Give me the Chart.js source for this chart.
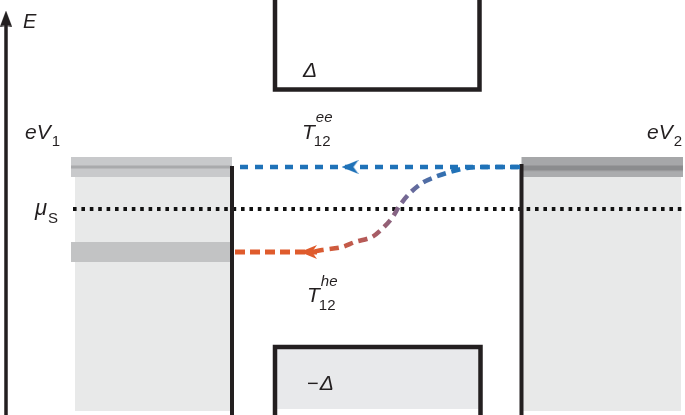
<!DOCTYPE html>
<html>
<head>
<meta charset="utf-8">
<script src="https://cdn.jsdelivr.net/npm/chart.js@4/dist/chart.umd.min.js"></script>
<style>
  html, body { margin: 0; padding: 0; background: #fff; }
  canvas { display: block; }
</style>
</head>
<body>
<canvas id="c" width="685" height="415"></canvas>
<script>
// energies (arbitrary units, muS = 0)
const muS = 0
const eV1 = 0.42
const eV2 = 0.42
const holeLevel = -0.43
const gapTop = 1.195
const gapBottom = -1.38
const bandHalf = 0.10

// positions along the junction
const lead1X = [0.73, 2.32]
const lead2X = [5.215, 6.83]
const gapX = [2.75, 4.795]

// the crossed Andreev path, from lead 2 towards lead 1
const curveX = [5.20, 4.87, 4.67, 4.50, 4.35, 4.22, 4.10, 4.00, 3.92, 3.83, 3.72, 3.55, 3.42, 3.22, 3.12]
const curveY = [0.42, 0.42, 0.41, 0.37, 0.32, 0.26, 0.16, 0.04, -0.09, -0.19, -0.28, -0.33, -0.38, -0.41, -0.43]

// where the arrow heads sit on each path
const arrowEeX = 3.50
const arrowHeX = 3.085

const xMin = 0, xMax = 6.85
const yMin = -2.06, yMax = 2.09
const ink = '#231f20'

const pts = (xs, ys) => xs.map((x, i) => ({x: x, y: ys[i]}))
const rect = (x1, x2, y1, y2) => pts([x1, x2, x2, x1, x1], [y1, y1, y2, y2, y1])

function arrowHead(color, len, halfW, notch) {
    const c = document.createElement('canvas')
    c.width = len
    c.height = halfW * 2
    const g = c.getContext('2d')
    g.fillStyle = color
    g.beginPath()
    g.moveTo(0, halfW)
    g.lineTo(len, 0)
    g.lineTo(len - notch, halfW)
    g.lineTo(len, halfW * 2)
    g.closePath()
    g.fill()
    return c
}

const shape = (data, color, order) => ({
    data: data, showLine: true, fill: 'shape', backgroundColor: color,
    borderWidth: 0, borderColor: 'rgba(0,0,0,0)', pointRadius: 0, order: order
})
const stroke = (data, color, width, dash, order) => ({
    data: data, showLine: true, fill: false, borderColor: color,
    borderWidth: width, borderDash: dash || [], pointRadius: 0, order: order,
    borderCapStyle: 'butt'
})
const marker = (x, y, img, rot, order) => ({
    data: [{x: x, y: y}], showLine: false, pointStyle: img, pointRadius: 6,
    rotation: rot, order: order
})

const bottomY = yMin - 0.1
const fillBottom = yMin + 0.04

const curveGradient = (ctx) => {
    const chart = ctx.chart
    if (!chart.chartArea) return '#1f72b8'
    const sx = chart.scales.x
    const g = chart.ctx.createLinearGradient(sx.getPixelForValue(3.15), 0, sx.getPixelForValue(4.55), 0)
    g.addColorStop(0, '#df5b2c')
    g.addColorStop(0.4, '#b05a5e')
    g.addColorStop(0.68, '#6c6a9a')
    g.addColorStop(1, '#1f72b8')
    return g
}

const datasets = [
    // lead 1
    shape(rect(lead1X[0] + 0.02, lead1X[1], fillBottom, eV1), '#e8e9e9', 20),
    shape(rect(lead1X[0] - 0.02, lead1X[1], eV1 - bandHalf, eV1 + bandHalf), '#c8c9cb', 19),
    stroke(pts([lead1X[0] - 0.02, lead1X[1]], [eV1, eV1]), '#a9aaac', 3, null, 18),
    shape(rect(lead1X[0] - 0.02, lead1X[1], holeLevel - bandHalf, holeLevel + bandHalf), '#c2c3c4', 19),
    // lead 2
    shape(rect(lead2X[0], lead2X[1] - 0.02, fillBottom, eV2), '#e8e9e9', 20),
    shape(rect(lead2X[0], lead2X[1], eV2 - bandHalf, eV2 + bandHalf), '#a6a7a9', 19),
    stroke(pts([lead2X[0], lead2X[1]], [eV2 - 0.01, eV2 - 0.01]), '#8b8c8e', 5, null, 18),
    stroke(pts([lead2X[0], lead2X[1]], [eV2 - 0.075, eV2 - 0.075]), '#abacae', 5, null, 18),
    // gap edges of the superconductor
    shape(rect(gapX[0], gapX[1] + 0.01, fillBottom + 0.02, gapBottom), '#e8e9eb', 20),
    stroke(pts([gapX[0], gapX[0], gapX[1], gapX[1]], [yMax + 0.1, gapTop, gapTop, yMax + 0.1]), ink, 4.5, null, 5),
    stroke(pts([gapX[0], gapX[0], gapX[1] + 0.01, gapX[1] + 0.01], [bottomY, gapBottom, gapBottom, bottomY]), ink, 4.5, null, 5),
    // interfaces
    stroke(pts([lead1X[1], lead1X[1]], [eV1 + 0.01, bottomY]), ink, 4, null, 4),
    stroke(pts([lead2X[0], lead2X[0]], [eV2 + 0.03, bottomY]), ink, 4, null, 4),
    // chemical potential
    stroke(pts([lead1X[0], xMax], [muS, muS]), '#111', 3.8, [3.6, 4.8], 6),
    // energy axis
    stroke(pts([0.06, 0.06], [bottomY, 1.86]), ink, 3.5, null, 4),
    marker(0.06, 1.905, arrowHead(ink, 16, 6, 1), 90, 1),
    // T12 ee : electron transmitted at the same energy
    stroke(pts([2.40, curveX[0]], [eV1, eV1]), '#1f72b8', 4.5, [8, 7], 3),
    marker(arrowEeX, eV1, arrowHead('#1f72b8', 17, 7, 5), 0, 1),
    // T12 he : crossed Andreev reflection, hole below muS
    {...stroke(pts(curveX, curveY), '#1f72b8', 4.5, [9, 6], 2), borderColor: curveGradient, tension: 0.3},
    stroke(pts([2.35, 3.17], [holeLevel, holeLevel]), '#df5b2c', 5, [10, 5], 2),
    marker(arrowHeX, holeLevel, arrowHead('#df5b2c', 17, 7, 5), 0, 1)
]

const font = (r) => (r.i ? 'italic ' : '') + r.s + 'px "Liberation Sans", Arial, sans-serif'
function drawRuns(c, x, y, runs) {
    let cx = x, start = x
    runs.forEach(r => {
        c.font = font(r)
        if (r.back) cx = start
        start = cx
        const px = cx + (r.dx || 0)
        c.fillText(r.t, px, y + (r.dy || 0))
        cx = px + c.measureText(r.t).width
    })
}

const labels = {
    id: 'labels',
    afterDatasetsDraw(chart) {
        const c = chart.ctx, sx = chart.scales.x, sy = chart.scales.y
        const at = (x, y, runs) => drawRuns(c, sx.getPixelForValue(x), sy.getPixelForValue(y), runs)
        c.save()
        c.fillStyle = ink
        c.textBaseline = 'alphabetic'
        c.textAlign = 'left'
        at(0.23, 1.81, [{t: 'E', i: 1, s: 20}])
        at(0.25, eV1 + 0.28, [{t: 'eV', i: 1, s: 21}, {t: '1', s: 15, dy: 7, dx: 1}])
        at(6.47, eV2 + 0.28, [{t: 'eV', i: 1, s: 21}, {t: '2', s: 15, dy: 7, dx: 1}])
        at(0.35, muS - 0.06, [{t: 'μ', i: 1, s: 22}, {t: 'S', s: 15, dy: 8, dx: 1}])
        at(3.02, eV1 + 0.28, [{t: 'T', i: 1, s: 21}, {t: '12', s: 15, dy: 7, dx: -1}, {t: 'ee', i: 1, s: 15, dy: -17, back: 1, dx: 1}])
        at(3.07, -0.93, [{t: 'T', i: 1, s: 21}, {t: '12', s: 15, dy: 8, dx: -1}, {t: 'he', i: 1, s: 15, dy: -16, back: 1, dx: 1}])
        at(3.03, gapTop + 0.125, [{t: 'Δ', i: 1, s: 21}])
        at(3.07, gapBottom - 0.43, [{t: '−', s: 20}, {t: 'Δ', i: 1, s: 21, dx: 1}])
        c.restore()
    }
}

new Chart(document.getElementById('c'), {
    type: 'line',
    data: {datasets: datasets},
    options: {
        responsive: false,
        animation: false,
        events: [],
        layout: {padding: 0, autoPadding: false},
        scales: {
            x: {type: 'linear', min: xMin, max: xMax, display: false},
            y: {type: 'linear', min: yMin, max: yMax, display: false}
        },
        plugins: {
            legend: {display: false},
            tooltip: {enabled: false}
        }
    },
    plugins: [labels]
})
</script>
</body>
</html>
